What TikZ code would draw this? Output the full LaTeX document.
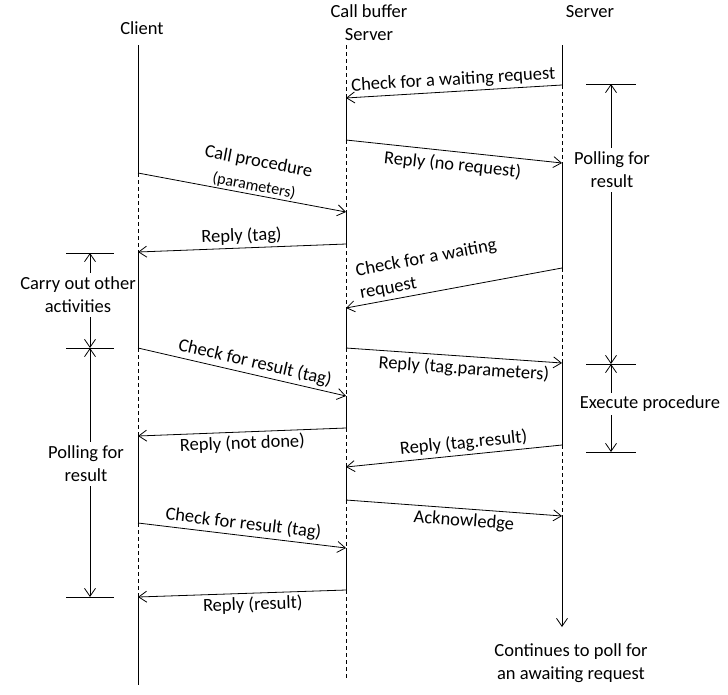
\documentclass[tikz,border=0pt]{standalone}
\usepackage{fontspec}
\setmainfont{Carlito}
\usetikzlibrary{arrows.meta}
\begin{document}
\begin{tikzpicture}[x=1pt,y=-1pt]
\tikzstyle{every node}=[font=\fontsize{18.5}{23}\selectfont,inner sep=3pt];
\tikzstyle{msg}=[line width=0.8pt,-{Straight Barb[length=8pt,width=11pt]}];
\tikzstyle{busy}=[line width=0.8pt];
\tikzstyle{idle}=[line width=0.8pt,dash pattern=on 4pt off 3pt];
\useasboundingbox (0,0) rectangle (728,694);
% headings
\node (client) at (142,28) {Client};
\node[align=center] (buffer) at (369,23) {Call buffer\\Server};
\node (server) at (590,12) {Server};
% client lifeline
\coordinate (c0) at (138,45);
\coordinate (c1) at (138,173);
\coordinate (c2) at (138,252);
\coordinate (c3) at (138,348);
\coordinate (c4) at (138,436);
\coordinate (c5) at (138,523);
\coordinate (c6) at (138,597);
\coordinate (c7) at (138,685);
% buffer lifeline
\coordinate (b0) at (346,45);
\coordinate (b1) at (346,98);
\coordinate (b2) at (346,140);
\coordinate (b3) at (346,212);
\coordinate (b4) at (346,244);
\coordinate (b5) at (346,308);
\coordinate (b6) at (346,348);
\coordinate (b7) at (346,396);
\coordinate (b8) at (346,428);
\coordinate (b9) at (346,467);
\coordinate (b10) at (346,500);
\coordinate (b11) at (346,548);
\coordinate (b12) at (346,590);
\coordinate (b13) at (346,680);
% server lifeline
\coordinate (s0) at (562,45);
\coordinate (s1) at (562,85);
\coordinate (s2) at (562,163);
\coordinate (s3) at (562,268);
\coordinate (s4) at (562,363);
\coordinate (s5) at (562,445);
\coordinate (s6) at (562,516);
\coordinate (s7) at (562,627);
\draw[busy] (c0) -- (c1) (c2) -- (c3) (c4) -- (c5) (c6) -- (c7)
(b1) -- (b2) (b3) -- (b4) (b5) -- (b6) (b7) -- (b8) (b9) -- (b10) (b11) -- (b12)
(s0) -- (s1) (s2) -- (s3) (s4) -- (s5);
\draw[idle] (c1) -- (c2) (c3) -- (c4) (c5) -- (c6)
(b0) -- (b1) (b2) -- (b3) (b4) -- (b5) (b6) -- (b7) (b8) -- (b9) (b10) -- (b11) (b12) -- (b13)
(s1) -- (s2) (s3) -- (s4) (s5) -- (s6);
\draw[msg] (s6) -- (s7);
\node[align=center] (cont) at (571,663) {Continues to poll for\\an awaiting request};
% messages
\draw[msg] (s1) -- node[above,sloped] (m1) {Check for a waiting request} (b1);
\draw[msg] (b2) -- node[below,sloped,inner sep=5pt] (m2) {Reply (no request)} (s2);
\draw[msg] (c1) -- node[above,sloped,align=center,pos=0.55,inner sep=1pt] (m3) {Call procedure\\[1pt]{\fontsize{16}{16}\selectfont(parameters)}} (b3);
\draw[msg] (b4) -- node[above,sloped] (m4) {Reply (tag)} (c2);
\draw[msg] (s3) -- node[above,sloped,align=left,pos=0.6] (m5) {Check for a waiting\\request} (b5);
\draw[msg] (b6) -- node[below,sloped,pos=0.55,inner sep=4pt] (m6) {Reply (tag.parameters)} (s4);
\draw[msg] (c3) -- node[above,sloped,pos=0.55] (m7) {Check for result (tag)} (b7);
\draw[msg] (b8) -- node[below,sloped] (m8) {Reply (not done)} (c4);
\draw[msg] (s5) -- node[above,sloped,pos=0.45] (m9) {Reply (tag.result)} (b9);
\draw[msg] (b10) -- node[below,sloped,pos=0.55,inner sep=4pt] (m10) {Acknowledge} (s6);
\draw[msg] (c5) -- node[above,sloped] (m11) {Check for result (tag)} (b11);
\draw[msg] (b12) -- node[below,sloped,pos=0.45] (m12) {Reply (result)} (c6);
% time spans on the right
\coordinate (r0) at (586,84);
\coordinate (r1) at (611,84);
\coordinate (r2) at (636,84);
\coordinate (r3) at (586,364);
\coordinate (r4) at (611,364);
\coordinate (r5) at (636,364);
\coordinate (r6) at (586,452);
\coordinate (r7) at (611,452);
\coordinate (r8) at (636,452);
\node[align=center,inner sep=4pt] (pollserver) at (612,170) {Polling for\\result};
\node (execute) at (650,404) {Execute procedure};
\draw[busy] (r0) -- (r2) (r3) -- (r5) (r6) -- (r8);
\draw[msg] (pollserver.north -| r1) -- (r1);
\draw[msg] (pollserver.south -| r1) -- (r4);
\draw[msg] (execute.north -| r4) -- (r4);
\draw[msg] (execute.south -| r4) -- (r7);
% time spans on the left
\coordinate (l0) at (66,253);
\coordinate (l1) at (90,253);
\coordinate (l2) at (114,253);
\coordinate (l3) at (66,348);
\coordinate (l4) at (90,348);
\coordinate (l5) at (114,348);
\coordinate (l6) at (66,597);
\coordinate (l7) at (90,597);
\coordinate (l8) at (114,597);
\node[align=center,inner sep=4pt] (carry) at (78,295) {Carry out other\\activities};
\node[align=center,inner sep=4pt] (pollclient) at (86,464) {Polling for\\result};
\draw[busy] (l0) -- (l2) (l3) -- (l5) (l6) -- (l8);
\draw[msg] (carry.north -| l1) -- (l1);
\draw[msg] (carry.south -| l1) -- (l4);
\draw[msg] (pollclient.north -| l4) -- (l4);
\draw[msg] (pollclient.south -| l4) -- (l7);
\end{tikzpicture}
\end{document}
